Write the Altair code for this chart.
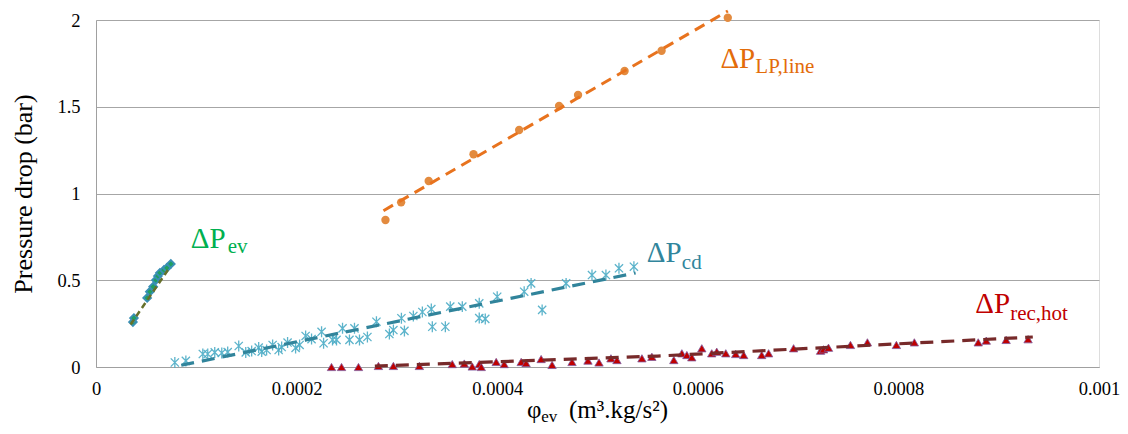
import altair as alt
import pandas as pd

# ---------------- data ----------------
# Delta P LP,line (orange circles)
lp_x = [0.0002886, 0.0003042, 0.0003317, 0.0003764, 0.0004219, 0.0004617,
        0.0004806, 0.0005270, 0.0005639, 0.0006299]
lp_y = [0.847, 0.949, 1.072, 1.226, 1.366, 1.504, 1.568, 1.706, 1.823, 2.013]
lp_fit_x = [0.0002866, 0.00063]
lp_fit_y = [0.901, 2.052]

# Delta P ev (green diamonds)
ev_x = [0.0000368, 0.0000378, 0.0000510, 0.0000537, 0.0000570, 0.0000597,
        0.0000617, 0.0000637, 0.0000677, 0.0000706, 0.0000746]
ev_y = [0.259, 0.282, 0.398, 0.434, 0.463, 0.501, 0.524, 0.543, 0.559, 0.571, 0.594]
ev_fit_x = [0.0000345, 0.0000736]
ev_fit_y = [0.245, 0.575]

# Delta P cd (teal asterisks)
cd_x = [0.0000786, 0.0000896, 0.0001065, 0.0001114, 0.0001184, 0.0001254,
        0.0001313, 0.0001423, 0.0001493, 0.0001552, 0.0001622, 0.0001652,
        0.0001701, 0.0001761, 0.0001821, 0.0001851, 0.0001910, 0.0001990,
        0.0002030, 0.0002090, 0.0002149, 0.0002249, 0.0002269, 0.0002358,
        0.0002398, 0.0002458, 0.0002527, 0.0002577, 0.0002627, 0.0002706,
        0.0002796, 0.0002925, 0.0002965, 0.0003045, 0.0003075, 0.0003164,
        0.0003254, 0.0003343, 0.0003353, 0.0003483, 0.0003532, 0.0003652,
        0.0003821, 0.0003821, 0.0003881, 0.0004000, 0.0004269, 0.0004338,
        0.0004448, 0.0004687, 0.0004945, 0.0005084, 0.0005214, 0.0005363]
cd_y = [0.026, 0.035, 0.075, 0.075, 0.084, 0.081, 0.086, 0.121, 0.084, 0.092,
        0.112, 0.089, 0.098, 0.127, 0.098, 0.115, 0.141, 0.110, 0.127, 0.179,
        0.161, 0.203, 0.137, 0.156, 0.156, 0.223, 0.156, 0.223, 0.156, 0.173,
        0.261, 0.190, 0.213, 0.281, 0.208, 0.294, 0.317, 0.334, 0.232, 0.232,
        0.348, 0.348, 0.367, 0.282, 0.277, 0.405, 0.434, 0.482, 0.329, 0.482,
        0.530, 0.530, 0.569, 0.578]
cd_fit_x = [0.000085, 0.000538]
cd_fit_y = [0.010, 0.542]

# Delta P rec,hot (red triangles)
rec_x = [0.0002348, 0.0002448, 0.0002617, 0.0002816, 0.0002965, 0.0003224,
         0.0003552, 0.0003672, 0.0003751, 0.0003821, 0.0003841, 0.0003990,
         0.0004070, 0.0004239, 0.0004288, 0.0004438, 0.0004547, 0.0004746,
         0.0004905, 0.0005015, 0.0005134, 0.0005194, 0.0005443, 0.0005542,
         0.0005761, 0.0005841, 0.0005891, 0.0005940, 0.0006040, 0.0006139,
         0.0006189, 0.0006279, 0.0006378, 0.0006458, 0.0006637, 0.0006706,
         0.0006955, 0.0007224, 0.0007254, 0.0007303, 0.0007522, 0.0007691,
         0.0007980, 0.0008159, 0.0008796, 0.0008876, 0.0009074, 0.0009293]
rec_y = [0.000, 0.000, 0.000, 0.006, 0.006, 0.006, 0.017, 0.020, 0.003, 0.017,
         0.000, 0.029, 0.017, 0.029, 0.023, 0.046, 0.012, 0.029, 0.037, 0.026,
         0.050, 0.040, 0.050, 0.059, 0.040, 0.079, 0.069, 0.056, 0.108, 0.079,
         0.088, 0.079, 0.075, 0.069, 0.069, 0.079, 0.108, 0.094, 0.102, 0.111,
         0.127, 0.142, 0.127, 0.142, 0.142, 0.152, 0.156, 0.160]
rec_fit_x = [0.000278, 0.00056, 0.000934]
rec_fit_y = [0.005, 0.063, 0.173]

# annotations (label text, anchor in data units)
ann_text = ["ΔP", "ev", "ΔP", "cd", "ΔP", "LP,line", "ΔP", "rec,hot",
            "φ", "ev", "(m³.kg/s²)"]
ann_x = [0.0000945, 0.0001313, 0.0005492, 0.0005841, 0.0006226, 0.0006574,
         0.0008766, 0.0009114, 0.0004298, 0.0004438, 0.0004716]
ann_y = [0.686, 0.657, 0.607, 0.565, 1.722, 1.693, 0.310, 0.271,
         -0.294, -0.317, -0.294]
ann_size = [29, 21, 29, 21, 29, 21, 29, 21, 25, 17, 25]
ann_color = ["#00B050", "#00B050", "#31859C", "#31859C", "#E36C0A", "#E36C0A",
             "#C00000", "#C00000", "#000000", "#000000", "#000000"]

# ---------------- chart ----------------
SERIF = "Liberation Serif"

xs = alt.Scale(domain=[0, 0.001], nice=False, zero=False)
ys = alt.Scale(domain=[0, 2], nice=False, zero=False)
X = alt.X("x:Q", scale=xs, axis=alt.Axis(
    values=[0, 0.0002, 0.0004, 0.0006, 0.0008, 0.001], format="~g", title=None,
    grid=False, labelPadding=12))
Y = alt.Y("y:Q", scale=ys, axis=alt.Axis(
    values=[0, 0.5, 1, 1.5, 2], format="~g", title="Pressure drop (bar)",
    grid=True, labelPadding=16, titlePadding=20))

def df(xv, yv):
    return pd.DataFrame({"x": xv, "y": yv})

ASTERISK = "M0,-1L0,1M-0.75,-0.75L0.75,0.75M-0.75,0.75L0.75,-0.75"

cd_pts = alt.Chart(df(cd_x, cd_y)).mark_point(
    shape=ASTERISK, filled=False, size=120, color="#4BACC6", strokeWidth=1.3, opacity=0.9
).encode(x=X, y=Y)
rec_pts = alt.Chart(df(rec_x, rec_y)).mark_point(
    shape="triangle-up", filled=True, size=70, color="#C00000", stroke="#7F5A9E",
    strokeWidth=0.8, opacity=1
).encode(x=X, y=Y)
lp_pts = alt.Chart(df(lp_x, lp_y)).mark_circle(
    size=70, color="#E38B3F", opacity=1
).encode(x=X, y=Y)
ev_pts = alt.Chart(df(ev_x, ev_y)).mark_point(
    shape="diamond", filled=True, size=60, color="#1FA060", stroke="#3A8FB5",
    strokeWidth=1.8, opacity=1
).encode(x=X, y=Y)

def fit(xv, yv, color, dash, width):
    return alt.Chart(df(xv, yv)).mark_line(
        color=color, strokeDash=dash, strokeWidth=width
    ).encode(x=X, y=Y)

cd_fit = fit(cd_fit_x, cd_fit_y, "#31849B", [13, 8], 3.2)
rec_fit = fit(rec_fit_x, rec_fit_y, "#772A2A", [13, 8], 3.2)
lp_fit = fit(lp_fit_x, lp_fit_y, "#E8731E", [11, 7], 3)
ev_fit = fit(ev_fit_x, ev_fit_y, "#66702A", [6, 4], 2.5)

ann = alt.Chart(pd.DataFrame({
    "x": ann_x, "y": ann_y, "text": ann_text, "size": ann_size, "color": ann_color
})).mark_text(font=SERIF, align="left", baseline="alphabetic").encode(
    x=X, y=Y, text="text:N",
    size=alt.Size("size:Q", scale=None, legend=None),
    color=alt.Color("color:N", scale=None, legend=None),
)

chart = alt.layer(
    cd_pts, rec_pts, lp_pts, ev_pts, cd_fit, rec_fit, lp_fit, ev_fit, ann
).properties(
    width=1003, height=347,
    autosize=alt.AutoSizeParams(type="none"),
    padding={"left": 88, "top": 12, "right": 21, "bottom": 59},
).configure_view(stroke=None).configure(background="white").configure_axis(
    labelFont=SERIF, labelFontSize=18.5, labelColor="#000000",
    titleFont=SERIF, titleFontSize=26, titleFontWeight="normal", titleColor="#000000",
    ticks=False, domainColor="#A0A0A0", gridColor="#A6A6A6", labelFlush=False,
)

chart.save("out.html", embed_options={"renderer": "svg", "actions": False})
